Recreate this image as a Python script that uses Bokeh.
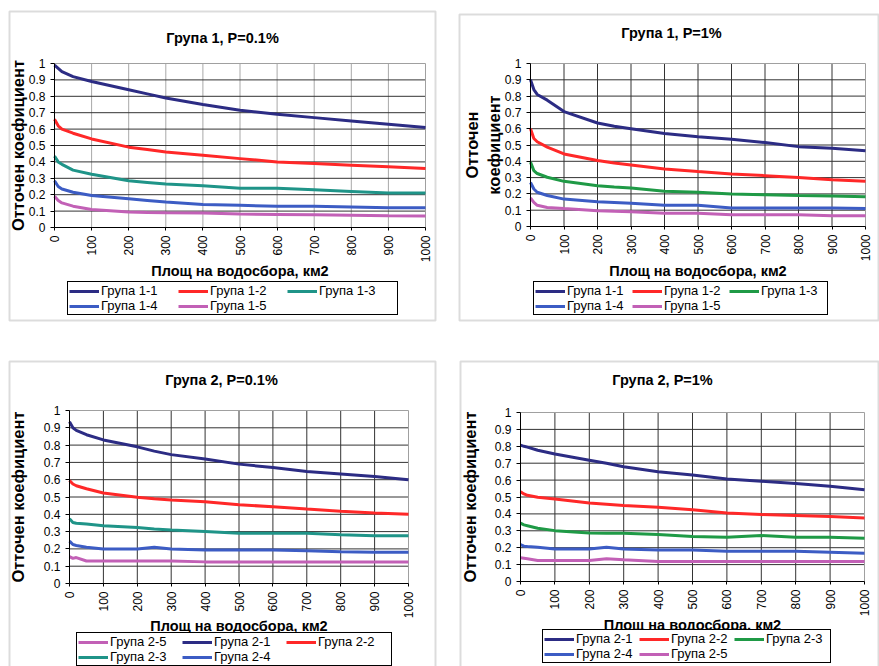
import math
from bokeh.plotting import figure
from bokeh.models import (Range1d, FixedTicker, Legend, LegendItem, Label, LinearAxis,
                          BoxAnnotation)
from bokeh.layouts import row, column
from bokeh.embed import file_html
from bokeh.resources import INLINE

# ---------------- data ----------------
AREA = [0, 10, 20, 50, 100, 200, 250, 300, 400, 500, 600, 700, 800, 900, 1000]
X_TICKS = [0, 100, 200, 300, 400, 500, 600, 700, 800, 900, 1000]
Y_TICKS = [0, 0.1, 0.2, 0.3, 0.4, 0.5, 0.6, 0.7, 0.8, 0.9, 1]
Y_TICK_LABELS = ["0", "0.1", "0.2", "0.3", "0.4", "0.5", "0.6", "0.7", "0.8", "0.9", "1"]

# Група 1, P=0.1%
G1_P01_1 = [0.99, 0.97, 0.95, 0.92, 0.89, 0.84, 0.815, 0.79, 0.75, 0.715, 0.69, 0.67, 0.65, 0.63, 0.61]
G1_P01_2 = [0.66, 0.62, 0.60, 0.575, 0.54, 0.49, 0.475, 0.46, 0.44, 0.42, 0.40, 0.39, 0.38, 0.37, 0.36]
G1_P01_3 = [0.435, 0.40, 0.385, 0.35, 0.325, 0.285, 0.275, 0.265, 0.255, 0.24, 0.24, 0.23, 0.22, 0.21, 0.21]
G1_P01_4 = [0.285, 0.25, 0.235, 0.215, 0.195, 0.175, 0.165, 0.155, 0.14, 0.135, 0.13, 0.13, 0.125, 0.12, 0.12]
G1_P01_5 = [0.19, 0.165, 0.15, 0.13, 0.11, 0.095, 0.092, 0.09, 0.088, 0.082, 0.08, 0.078, 0.075, 0.072, 0.07]

# Група 1, P=1%
G1_P1_1 = [0.90, 0.84, 0.81, 0.775, 0.705, 0.635, 0.615, 0.60, 0.57, 0.55, 0.535, 0.515, 0.49, 0.48, 0.465]
G1_P1_2 = [0.60, 0.54, 0.52, 0.487, 0.445, 0.405, 0.39, 0.378, 0.353, 0.337, 0.322, 0.312, 0.30, 0.287, 0.277]
G1_P1_3 = [0.395, 0.343, 0.325, 0.302, 0.277, 0.25, 0.242, 0.236, 0.216, 0.21, 0.20, 0.195, 0.19, 0.187, 0.183]
G1_P1_4 = [0.27, 0.23, 0.21, 0.19, 0.168, 0.152, 0.147, 0.142, 0.13, 0.13, 0.113, 0.113, 0.113, 0.113, 0.11]
G1_P1_5 = [0.175, 0.148, 0.13, 0.117, 0.11, 0.097, 0.093, 0.09, 0.082, 0.082, 0.072, 0.072, 0.072, 0.066, 0.066]

# Група 2, P=0.1%
G2_P01_1 = [0.935, 0.90, 0.885, 0.86, 0.83, 0.79, 0.765, 0.745, 0.72, 0.69, 0.67, 0.648, 0.633, 0.618, 0.60]
G2_P01_2 = [0.595, 0.575, 0.565, 0.548, 0.523, 0.498, 0.49, 0.483, 0.473, 0.455, 0.444, 0.43, 0.417, 0.407, 0.40]
G2_P01_3 = [0.375, 0.353, 0.348, 0.344, 0.334, 0.324, 0.315, 0.309, 0.30, 0.29, 0.29, 0.29, 0.282, 0.276, 0.276]
G2_P01_4 = [0.245, 0.225, 0.22, 0.21, 0.20, 0.20, 0.21, 0.20, 0.193, 0.193, 0.193, 0.19, 0.183, 0.18, 0.18]
G2_P01_5 = [0.155, 0.145, 0.15, 0.13, 0.13, 0.13, 0.13, 0.13, 0.125, 0.125, 0.125, 0.125, 0.125, 0.125, 0.125]

# Група 2, P=1%
G2_P1_1 = [0.807, 0.80, 0.795, 0.777, 0.754, 0.718, 0.70, 0.679, 0.65, 0.63, 0.606, 0.593, 0.58, 0.563, 0.543]
G2_P1_2 = [0.531, 0.518, 0.51, 0.498, 0.488, 0.465, 0.457, 0.449, 0.439, 0.425, 0.406, 0.396, 0.39, 0.384, 0.376]
G2_P1_3 = [0.345, 0.335, 0.33, 0.315, 0.301, 0.287, 0.286, 0.285, 0.278, 0.266, 0.262, 0.272, 0.262, 0.262, 0.256]
G2_P1_4 = [0.218, 0.209, 0.207, 0.203, 0.193, 0.193, 0.203, 0.193, 0.187, 0.187, 0.179, 0.179, 0.179, 0.173, 0.167]
G2_P1_5 = [0.14, 0.138, 0.135, 0.124, 0.124, 0.124, 0.134, 0.128, 0.118, 0.118, 0.118, 0.118, 0.118, 0.118, 0.118]

X_LABEL = "Площ на водосбора, км2"
Y_LABEL = "Отточен коефициент"
Y_LABEL_2LINE = "Отточен\nкоефициент"

# ---------------- styles ----------------
FONT = "Liberation Sans"
NAVY = "#2c2c84"
RED = "#ff2828"
TEAL = "#1f9488"
GREEN = "#1f9a46"
BLUE = "#3c5cc4"
PINK = "#c260b6"
LEG_H = 31


def make_panel(title, ylabel, series, legend_order, cw, ch, border, plot, title_c,
               legend_tl, label_w, ylab_standoff, xlab_standoff, xgrid_color):
    L, T, R, B = plot
    x0, x1 = X_TICKS[0], X_TICKS[-1]
    y0, y1 = Y_TICKS[0], Y_TICKS[-1]
    kx = (x1 - x0) / (R - L)
    ky = (y1 - y0) / (B - T)
    xr = Range1d(x0 - L * kx, x1 + (cw - R) * kx)
    yr = Range1d(y0 - (ch - B) * ky, y1 + T * ky)

    p = figure(width=cw, height=ch, x_range=xr, y_range=yr,
               x_axis_type=None, y_axis_type=None,
               output_backend="svg", toolbar_location=None,
               min_border=0, min_border_left=0, min_border_right=0,
               min_border_top=0, min_border_bottom=0,
               background_fill_color="white", border_fill_color="white",
               outline_line_color=None)

    # grid lines (interior ticks) and plot-area border
    xi = X_TICKS[1:-1]
    yi = Y_TICKS[1:-1]
    p.segment(x0=xi, y0=[y0] * len(xi), x1=xi, y1=[y1] * len(xi),
              line_color=xgrid_color, line_width=1)
    p.segment(x0=[x0] * len(yi), y0=yi, x1=[x1] * len(yi), y1=yi,
              line_color="#333333", line_width=1)
    p.quad(left=[x0], right=[x1], bottom=[y0], top=[y1], fill_color=None,
           line_color="#a0a0a0", line_width=1)

    rmap = {}
    for name, ys, color in series:
        rmap[name] = p.line(AREA, ys, line_color=color, line_width=3)

    # axes
    yax = LinearAxis(fixed_location=x0, bounds=(y0, y1), ticker=FixedTicker(ticks=Y_TICKS),
                     major_label_overrides=dict(zip(Y_TICKS, Y_TICK_LABELS)))
    xax = LinearAxis(fixed_location=y0, bounds=(x0, x1), ticker=FixedTicker(ticks=X_TICKS))
    for ax in (xax, yax):
        ax.axis_line_color = "black"
        ax.major_tick_line_color = "black"
        ax.minor_tick_line_color = None
        ax.major_tick_in = 0
        ax.major_label_text_font = FONT
        ax.major_label_text_font_size = "12px"
        ax.major_label_text_color = "black"
        ax.axis_label_text_font = FONT
        ax.axis_label_text_font_style = "bold"
        ax.axis_label_text_color = "black"
        ax.major_label_standoff = 5
    xax.axis_label_text_font_size = "14.5px"
    yax.axis_label_text_font_size = "16.5px"
    xax.major_tick_out = 3
    yax.major_tick_out = 4
    xax.major_label_orientation = math.pi / 2
    xax.axis_label = X_LABEL
    xax.axis_label_standoff = xlab_standoff
    yax.axis_label = ylabel
    yax.axis_label_standoff = ylab_standoff
    p.add_layout(yax, "left")
    p.add_layout(xax, "below")

    # chart-area border
    bl, bt, br, bb = border
    p.add_layout(BoxAnnotation(left=bl, right=br, top=ch - bt, bottom=ch - bb,
                               left_units="screen", right_units="screen",
                               top_units="screen", bottom_units="screen",
                               fill_color=None, fill_alpha=0,
                               line_color="#8c8c8c", line_width=2))

    # title
    p.add_layout(Label(x=title_c[0], y=ch - title_c[1], x_units="screen", y_units="screen",
                       text=title, text_align="center", text_baseline="middle",
                       text_font=FONT, text_font_style="bold", text_font_size="14.5px",
                       text_color="black"))

    # legend
    items = [LegendItem(label=n, renderers=[rmap[n]]) for n in legend_order]
    leg = Legend(items=items, location=(legend_tl[0], ch - legend_tl[1] - LEG_H),
                 orientation="horizontal", ncols=3,
                 glyph_width=30, glyph_height=12, label_standoff=2, label_width=label_w,
                 label_height=12, spacing=0, padding=1, margin=0,
                 border_line_color="black", border_line_width=1, border_line_alpha=1,
                 background_fill_color="white", background_fill_alpha=1,
                 label_text_font=FONT, label_text_font_size="13px", label_text_color="black")
    p.add_layout(leg)
    return p


ORDER1 = ["Група 1-1", "Група 1-2", "Група 1-3", "Група 1-4", "Група 1-5"]

p1 = make_panel("Група 1, P=0.1%", Y_LABEL,
                [("Група 1-1", G1_P01_1, NAVY), ("Група 1-2", G1_P01_2, RED),
                 ("Група 1-3", G1_P01_3, TEAL), ("Група 1-4", G1_P01_4, BLUE),
                 ("Група 1-5", G1_P01_5, PINK)],
                ORDER1, 447, 344, (9, 11, 435, 320), (54, 63, 425, 227), (222, 37),
                (67, 284), 77, -1, -2, "#a8a8a8")

p2 = make_panel("Група 1, P=1%", Y_LABEL_2LINE,
                [("Група 1-1", G1_P1_1, NAVY), ("Група 1-2", G1_P1_2, RED),
                 ("Група 1-3", G1_P1_3, GREEN), ("Група 1-4", G1_P1_4, BLUE),
                 ("Група 1-5", G1_P1_5, PINK)],
                ORDER1, 432, 344, (12, 14, 431, 320), (83, 63, 418, 226), (224, 32),
                (86, 284), 65, -1, -1, "#333333")

p3 = make_panel("Група 2, P=0.1%", Y_LABEL,
                [("Група 2-1", G2_P01_1, NAVY), ("Група 2-2", G2_P01_2, RED),
                 ("Група 2-3", G2_P01_3, TEAL), ("Група 2-4", G2_P01_4, BLUE),
                 ("Група 2-5", G2_P01_5, PINK)],
                ["Група 2-5", "Група 2-1", "Група 2-2", "Група 2-3", "Група 2-4"],
                447, 322, (9, 17, 435, 340), (69, 66, 408, 239), (221, 35),
                (76, 291), 72, 14, -3, "#333333")

p4 = make_panel("Група 2, P=1%", Y_LABEL,
                [("Група 2-1", G2_P1_1, NAVY), ("Група 2-2", G2_P1_2, RED),
                 ("Група 2-3", G2_P1_3, GREEN), ("Група 2-4", G2_P1_4, BLUE),
                 ("Група 2-5", G2_P1_5, PINK)],
                ["Група 2-1", "Група 2-2", "Група 2-3", "Група 2-4", "Група 2-5"],
                432, 322, (13, 17, 431, 340), (73, 68, 417, 237), (215, 35),
                (95, 288), 63, 13, -2, "#333333")

page = column(row(p1, p2), row(p3, p4))

open("out.html", "w").write(file_html(page, INLINE))
